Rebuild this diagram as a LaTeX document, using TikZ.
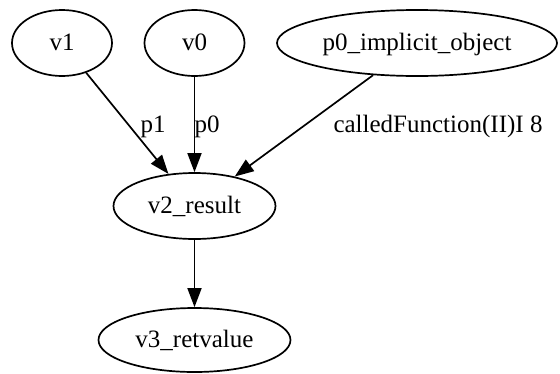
\documentclass[tikz,border=0pt]{standalone}
\usepackage{fontspec}
\setmainfont{Liberation Serif}
\newfontfamily\gvfont{Liberation Serif}
\usetikzlibrary{arrows.meta,shapes.geometric}
\begin{document}
\begin{tikzpicture}[x=1pt,y=-1pt,
  every node/.style={font=\gvfont\fontsize{25}{30}\selectfont},
  vert/.style={draw, ellipse, line width=1.7pt, inner sep=0pt,
    text height=17.5pt, text depth=2.5pt},
  flow/.style={line width=1.7pt, -{Triangle[length=19pt,width=14pt]}},
  lbl/.style={anchor=base, inner sep=0pt}]
\useasboundingbox (0,0) rectangle (560,373);
% value nodes
\node[vert, minimum width=100pt, minimum height=66pt] (v1) at (62,43) {v1};
\node[vert, minimum width=100pt, minimum height=66pt] (v0) at (194.5,43) {v0};
\node[vert, minimum width=280pt, minimum height=66pt] (p0) at (417,43) {p0\_implicit\_object};
\node[vert, minimum width=162pt, minimum height=66pt] (v2) at (194.5,206) {v2\_result};
\node[vert, minimum width=192pt, minimum height=64pt] (v3) at (194.5,340) {v3\_retvalue};
% data flow
\draw[flow] (v1) -- (v2);
\draw[flow] (v0) -- (v2);
\draw[flow] (p0) -- (v2);
\draw[flow] (v2) -- (v3);
% edge labels
\node[lbl] (l1) at (153,132) {p1};
\node[lbl] (l0) at (207,132) {p0};
\node[lbl] (lc) at (438,132) {calledFunction(II)I 8};
\end{tikzpicture}
\end{document}
